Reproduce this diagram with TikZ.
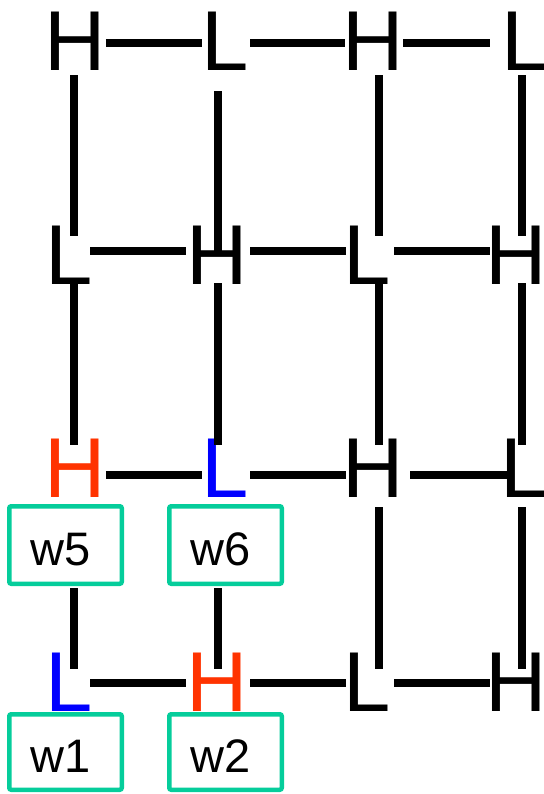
\documentclass[tikz,border=0pt]{standalone}
\usepackage{fontspec}
\setmainfont{Liberation Sans}
\definecolor{hired}{RGB}{255,51,0}
\definecolor{loblue}{RGB}{0,0,255}
\definecolor{wteal}{RGB}{5,205,155}
\begin{document}
\begin{tikzpicture}[x=1pt,y=-1pt,
  glyph/.style={inner sep=0pt, anchor=base west, font=\fontsize{85}{90}\selectfont},
  link/.style={line width=8pt, black},
  wbox/.style={draw=wteal, line width=4.5pt, rounded corners=2pt, inner xsep=21pt,
    inner ysep=0pt, text width=70.5pt, align=left, minimum width=112.5pt,
    text height=40pt, text depth=0pt, font=\fontsize{47}{50}\selectfont}]
\useasboundingbox (0,0) rectangle (543,794);

% row and column guide coordinates for the connectors
\coordinate (y1) at (0,43);
\coordinate (y2) at (0,251);
\coordinate (y3) at (0,475);
\coordinate (y4) at (0,683);
\coordinate (x1) at (74,0);
\coordinate (x2) at (218,0);
\coordinate (x3) at (378.5,0);
\coordinate (x4) at (522,0);

% letters
\node[glyph] (r1c1) at (44.2,70.5) {H};
\node[glyph] (r1c2) at (200.8,70.5) {L};
\node[glyph] (r1c3) at (342.2,70.5) {H};
\node[glyph] (r1c4) at (500.8,70.5) {L};

\node[glyph] (r2c1) at (44.8,284) {L};
\node[glyph] (r2c2) at (186.2,284) {H};
\node[glyph] (r2c3) at (342.8,284) {L};
\node[glyph] (r2c4) at (485.2,284) {H};

\node[glyph, hired] (r3c1) at (44.2,497) {H};
\node[glyph, loblue] (r3c2) at (200.8,497) {L};
\node[glyph] (r3c3) at (342.2,497) {H};
\node[glyph] (r3c4) at (499.8,497) {L};

\node[glyph, loblue] (r4c1) at (44.8,711) {L};
\node[glyph, hired] (r4c2) at (186.2,711) {H};
\node[glyph] (r4c3) at (342.8,711) {L};
\node[glyph] (r4c4) at (485.2,711) {H};

% weight boxes
\node[wbox, minimum height=77.5pt] (w5) at (65.5,545) {w5};
\node[wbox, minimum height=77.5pt] (w6) at (225.5,545) {w6};
\node[wbox, minimum height=75.5pt] (w1) at (65.5,752) {w1};
\node[wbox, minimum height=75.5pt] (w2) at (225.5,752) {w2};

% horizontal links
\draw[link, shorten >=-1.2pt] (r1c1.east |- y1) -- (r1c2.west |- y1);
\draw[link, shorten <=1.9pt, shorten >=-2.8pt] (r1c2.east |- y1) -- (r1c3.west |- y1);
\draw[link, shorten <=-0.6pt, shorten >=10.8pt] (r1c3.east |- y1) -- (r1c4.west |- y1);

\draw[link, shorten <=-2.1pt] (r2c1.east |- y2) -- (r2c2.west |- y2);
\draw[link, shorten <=2.4pt, shorten >=-3.2pt] (r2c2.east |- y2) -- (r2c3.west |- y2);
\draw[link, shorten <=3.9pt, shorten >=-4.8pt] (r2c3.east |- y2) -- (r2c4.west |- y2);

\draw[link, shorten >=-1.2pt] (r3c1.east |- y3) -- (r3c2.west |- y3);
\draw[link, shorten <=1.9pt, shorten >=-3.8pt] (r3c2.east |- y3) -- (r3c3.west |- y3);
\draw[link, shorten <=6.4pt, shorten >=-7.2pt] (r3c3.east |- y3) -- (r3c4.west |- y3);

\draw[link, shorten <=-2.1pt] (r4c1.east |- y4) -- (r4c2.west |- y4);
\draw[link, shorten <=2.4pt, shorten >=-3.2pt] (r4c2.east |- y4) -- (r4c3.west |- y4);
\draw[link, shorten <=3.9pt, shorten >=-4.8pt] (r4c3.east |- y4) -- (r4c4.west |- y4);

% vertical links, first to second row
\draw[link, shorten <=4.5pt, shorten >=-10.8pt] (x1 |- r1c1.south) -- (x1 |- r2c1.north);
\draw[link, shorten <=20.5pt, shorten >=-26.8pt] (x2 |- r1c2.south) -- (x2 |- r2c2.north);
\draw[link, shorten <=4.5pt, shorten >=-10.8pt] (x3 |- r1c3.south) -- (x3 |- r2c3.north);
\draw[link, shorten <=4.5pt, shorten >=-10.8pt] (x4 |- r1c4.south) -- (x4 |- r2c4.north);

% second to third row
\draw[link, shorten <=-1pt, shorten >=-6.8pt] (x1 |- r2c1.south) -- (x1 |- r3c1.north);
\draw[link, shorten <=-1pt, shorten >=-6.8pt] (x2 |- r2c2.south) -- (x2 |- r3c2.north);
\draw[link, shorten <=-1pt, shorten >=-6.8pt] (x3 |- r2c3.south) -- (x3 |- r3c3.north);
\draw[link, shorten <=-1pt, shorten >=-6.8pt] (x4 |- r2c4.south) -- (x4 |- r3c4.north);

% third to fourth row
\draw[link, shorten <=2pt, shorten >=-16.8pt] (x1 |- w5.south) -- (x1 |- r4c1.north);
\draw[link, shorten <=2pt, shorten >=-16.8pt] (x2 |- w6.south) -- (x2 |- r4c2.north);
\draw[link, shorten <=10pt, shorten >=-16.8pt] (x3 |- r3c3.south) -- (x3 |- r4c3.north);
\draw[link, shorten <=10pt, shorten >=-16.8pt] (x4 |- r3c4.south) -- (x4 |- r4c4.north);
\end{tikzpicture}
\end{document}
